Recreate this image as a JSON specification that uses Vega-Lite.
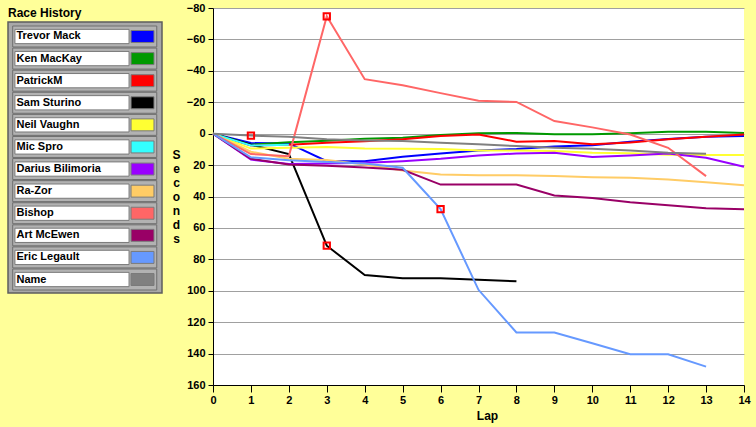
{
  "$schema": "https://vega.github.io/schema/vega-lite/v6.json",
  "background": "#FFFF99",
  "width": 531,
  "height": 377,
  "autosize": {"type": "none"},
  "padding": {"left": 213, "top": 8, "right": 12, "bottom": 42},
  "view": {"fill": "#FFFFFF", "stroke": null},
  "config": {"font": "Liberation Sans"},
  "title": {"text": "Race History", "anchor": "start", "frame": "group", "orient": "top", "dx": -205, "offset": -27, "baseline": "alphabetic", "fontSize": 12, "fontWeight": "bold", "font": "Liberation Sans", "color": "#000000"},
  "datasets": {
    "drivers": [
      {"driver": "Trevor Mack"}, {"driver": "Ken MacKay"}, {"driver": "PatrickM"}, {"driver": "Sam Sturino"},
      {"driver": "Neil Vaughn"}, {"driver": "Mic Spro"}, {"driver": "Darius Bilimoria"}, {"driver": "Ra-Zor"},
      {"driver": "Bishop"}, {"driver": "Art McEwen"}, {"driver": "Eric Legault"}, {"driver": "Name"}
    ],
    "panel": [{"part": "legend frame"}],
    "laps": [
      {"driver": "Trevor Mack", "lap": 0, "sec": 0}, {"driver": "Trevor Mack", "lap": 1, "sec": 6}, {"driver": "Trevor Mack", "lap": 2, "sec": 6.2}, {"driver": "Trevor Mack", "lap": 3, "sec": 17.5}, {"driver": "Trevor Mack", "lap": 4, "sec": 17.5}, {"driver": "Trevor Mack", "lap": 5, "sec": 14.7}, {"driver": "Trevor Mack", "lap": 6, "sec": 12.6}, {"driver": "Trevor Mack", "lap": 7, "sec": 10.7}, {"driver": "Trevor Mack", "lap": 8, "sec": 9.7}, {"driver": "Trevor Mack", "lap": 9, "sec": 8.1}, {"driver": "Trevor Mack", "lap": 10, "sec": 7.3}, {"driver": "Trevor Mack", "lap": 11, "sec": 5.1}, {"driver": "Trevor Mack", "lap": 12, "sec": 3.4}, {"driver": "Trevor Mack", "lap": 13, "sec": 1.9}, {"driver": "Trevor Mack", "lap": 14, "sec": 1.5},
      {"driver": "Ken MacKay", "lap": 0, "sec": 0}, {"driver": "Ken MacKay", "lap": 1, "sec": 7}, {"driver": "Ken MacKay", "lap": 2, "sec": 5.4}, {"driver": "Ken MacKay", "lap": 3, "sec": 4.5}, {"driver": "Ken MacKay", "lap": 4, "sec": 3.2}, {"driver": "Ken MacKay", "lap": 5, "sec": 2.6}, {"driver": "Ken MacKay", "lap": 6, "sec": 0.8}, {"driver": "Ken MacKay", "lap": 7, "sec": -0.3}, {"driver": "Ken MacKay", "lap": 8, "sec": -0.4}, {"driver": "Ken MacKay", "lap": 9, "sec": 0.3}, {"driver": "Ken MacKay", "lap": 10, "sec": 0.3}, {"driver": "Ken MacKay", "lap": 11, "sec": -0.2}, {"driver": "Ken MacKay", "lap": 12, "sec": -1.2}, {"driver": "Ken MacKay", "lap": 13, "sec": -1.2}, {"driver": "Ken MacKay", "lap": 14, "sec": -0.5},
      {"driver": "PatrickM", "lap": 0, "sec": 0}, {"driver": "PatrickM", "lap": 1, "sec": 7.5}, {"driver": "PatrickM", "lap": 2, "sec": 7}, {"driver": "PatrickM", "lap": 3, "sec": 5.8}, {"driver": "PatrickM", "lap": 4, "sec": 4.9}, {"driver": "PatrickM", "lap": 5, "sec": 3.6}, {"driver": "PatrickM", "lap": 6, "sec": 1.5}, {"driver": "PatrickM", "lap": 7, "sec": 0.5}, {"driver": "PatrickM", "lap": 8, "sec": 5.1}, {"driver": "PatrickM", "lap": 9, "sec": 4.7}, {"driver": "PatrickM", "lap": 10, "sec": 6.8}, {"driver": "PatrickM", "lap": 11, "sec": 5.7}, {"driver": "PatrickM", "lap": 12, "sec": 3.6}, {"driver": "PatrickM", "lap": 13, "sec": 2}, {"driver": "PatrickM", "lap": 14, "sec": 0.5},
      {"driver": "Sam Sturino", "lap": 0, "sec": 0}, {"driver": "Sam Sturino", "lap": 1, "sec": 7}, {"driver": "Sam Sturino", "lap": 2, "sec": 13}, {"driver": "Sam Sturino", "lap": 3, "sec": 71.3, "pit": true}, {"driver": "Sam Sturino", "lap": 4, "sec": 90}, {"driver": "Sam Sturino", "lap": 5, "sec": 92}, {"driver": "Sam Sturino", "lap": 6, "sec": 92}, {"driver": "Sam Sturino", "lap": 7, "sec": 93}, {"driver": "Sam Sturino", "lap": 8, "sec": 94},
      {"driver": "Neil Vaughn", "lap": 0, "sec": 0}, {"driver": "Neil Vaughn", "lap": 1, "sec": 9.5}, {"driver": "Neil Vaughn", "lap": 2, "sec": 9}, {"driver": "Neil Vaughn", "lap": 3, "sec": 8.5}, {"driver": "Neil Vaughn", "lap": 4, "sec": 9.5}, {"driver": "Neil Vaughn", "lap": 5, "sec": 9.6}, {"driver": "Neil Vaughn", "lap": 6, "sec": 9.8}, {"driver": "Neil Vaughn", "lap": 7, "sec": 10.7}, {"driver": "Neil Vaughn", "lap": 8, "sec": 10.7}, {"driver": "Neil Vaughn", "lap": 9, "sec": 11}, {"driver": "Neil Vaughn", "lap": 10, "sec": 12.1}, {"driver": "Neil Vaughn", "lap": 11, "sec": 12.4}, {"driver": "Neil Vaughn", "lap": 12, "sec": 13.4}, {"driver": "Neil Vaughn", "lap": 13, "sec": 13.6}, {"driver": "Neil Vaughn", "lap": 14, "sec": 13.6},
      {"driver": "Mic Spro", "lap": 0, "sec": 0}, {"driver": "Mic Spro", "lap": 1, "sec": 7.5}, {"driver": "Mic Spro", "lap": 2, "sec": 7},
      {"driver": "Darius Bilimoria", "lap": 0, "sec": 0}, {"driver": "Darius Bilimoria", "lap": 1, "sec": 16.5}, {"driver": "Darius Bilimoria", "lap": 2, "sec": 19.3}, {"driver": "Darius Bilimoria", "lap": 3, "sec": 19}, {"driver": "Darius Bilimoria", "lap": 4, "sec": 18.5}, {"driver": "Darius Bilimoria", "lap": 5, "sec": 17.5}, {"driver": "Darius Bilimoria", "lap": 6, "sec": 16}, {"driver": "Darius Bilimoria", "lap": 7, "sec": 13.9}, {"driver": "Darius Bilimoria", "lap": 8, "sec": 12.6}, {"driver": "Darius Bilimoria", "lap": 9, "sec": 12.1}, {"driver": "Darius Bilimoria", "lap": 10, "sec": 14.9}, {"driver": "Darius Bilimoria", "lap": 11, "sec": 13.9}, {"driver": "Darius Bilimoria", "lap": 12, "sec": 12.6}, {"driver": "Darius Bilimoria", "lap": 13, "sec": 15.3}, {"driver": "Darius Bilimoria", "lap": 14, "sec": 21},
      {"driver": "Ra-Zor", "lap": 0, "sec": 0}, {"driver": "Ra-Zor", "lap": 1, "sec": 11.5}, {"driver": "Ra-Zor", "lap": 2, "sec": 16}, {"driver": "Ra-Zor", "lap": 3, "sec": 16.8}, {"driver": "Ra-Zor", "lap": 4, "sec": 19.6}, {"driver": "Ra-Zor", "lap": 5, "sec": 23.4}, {"driver": "Ra-Zor", "lap": 6, "sec": 26}, {"driver": "Ra-Zor", "lap": 7, "sec": 26.4}, {"driver": "Ra-Zor", "lap": 8, "sec": 26.4}, {"driver": "Ra-Zor", "lap": 9, "sec": 27}, {"driver": "Ra-Zor", "lap": 10, "sec": 27.7}, {"driver": "Ra-Zor", "lap": 11, "sec": 28.1}, {"driver": "Ra-Zor", "lap": 12, "sec": 29.2}, {"driver": "Ra-Zor", "lap": 13, "sec": 30.9}, {"driver": "Ra-Zor", "lap": 14, "sec": 32.8},
      {"driver": "Bishop", "lap": 0, "sec": 0}, {"driver": "Bishop", "lap": 1, "sec": 13}, {"driver": "Bishop", "lap": 2, "sec": 14.3}, {"driver": "Bishop", "lap": 3, "sec": -74.7, "pit": true}, {"driver": "Bishop", "lap": 4, "sec": -34.7}, {"driver": "Bishop", "lap": 5, "sec": -30.8}, {"driver": "Bishop", "lap": 6, "sec": -25.8}, {"driver": "Bishop", "lap": 7, "sec": -21}, {"driver": "Bishop", "lap": 8, "sec": -20.2}, {"driver": "Bishop", "lap": 9, "sec": -8}, {"driver": "Bishop", "lap": 10, "sec": -4}, {"driver": "Bishop", "lap": 11, "sec": 0.5}, {"driver": "Bishop", "lap": 12, "sec": 9}, {"driver": "Bishop", "lap": 13, "sec": 27},
      {"driver": "Art McEwen", "lap": 0, "sec": 0}, {"driver": "Art McEwen", "lap": 1, "sec": 16}, {"driver": "Art McEwen", "lap": 2, "sec": 19.6}, {"driver": "Art McEwen", "lap": 3, "sec": 20.5}, {"driver": "Art McEwen", "lap": 4, "sec": 21.5}, {"driver": "Art McEwen", "lap": 5, "sec": 23}, {"driver": "Art McEwen", "lap": 6, "sec": 32.4}, {"driver": "Art McEwen", "lap": 7, "sec": 32.4}, {"driver": "Art McEwen", "lap": 8, "sec": 32.4}, {"driver": "Art McEwen", "lap": 9, "sec": 39.4}, {"driver": "Art McEwen", "lap": 10, "sec": 40.9}, {"driver": "Art McEwen", "lap": 11, "sec": 43.6}, {"driver": "Art McEwen", "lap": 12, "sec": 45.5}, {"driver": "Art McEwen", "lap": 13, "sec": 47.5}, {"driver": "Art McEwen", "lap": 14, "sec": 48.1},
      {"driver": "Eric Legault", "lap": 0, "sec": 0}, {"driver": "Eric Legault", "lap": 1, "sec": 15}, {"driver": "Eric Legault", "lap": 2, "sec": 17}, {"driver": "Eric Legault", "lap": 3, "sec": 18.1}, {"driver": "Eric Legault", "lap": 4, "sec": 19}, {"driver": "Eric Legault", "lap": 5, "sec": 21.7}, {"driver": "Eric Legault", "lap": 6, "sec": 48, "pit": true}, {"driver": "Eric Legault", "lap": 7, "sec": 99.4}, {"driver": "Eric Legault", "lap": 8, "sec": 126.6}, {"driver": "Eric Legault", "lap": 9, "sec": 126.6}, {"driver": "Eric Legault", "lap": 10, "sec": 133.4}, {"driver": "Eric Legault", "lap": 11, "sec": 140.4}, {"driver": "Eric Legault", "lap": 12, "sec": 140.4}, {"driver": "Eric Legault", "lap": 13, "sec": 148.3},
      {"driver": "Name", "lap": 0, "sec": 0}, {"driver": "Name", "lap": 1, "sec": 1.2, "pit": true}, {"driver": "Name", "lap": 2, "sec": 1.9}, {"driver": "Name", "lap": 3, "sec": 3.6}, {"driver": "Name", "lap": 4, "sec": 4.3}, {"driver": "Name", "lap": 5, "sec": 4.7}, {"driver": "Name", "lap": 6, "sec": 5.8}, {"driver": "Name", "lap": 7, "sec": 6.8}, {"driver": "Name", "lap": 8, "sec": 7.9}, {"driver": "Name", "lap": 9, "sec": 9}, {"driver": "Name", "lap": 10, "sec": 9.6}, {"driver": "Name", "lap": 11, "sec": 10.7}, {"driver": "Name", "lap": 12, "sec": 12.1}, {"driver": "Name", "lap": 13, "sec": 12.8}
    ]
  },
  "layer": [
    {
      "data": {"name": "laps"},
      "encoding": {
        "x": {"field": "lap", "type": "quantitative",
          "scale": {"domain": [0, 14], "nice": false, "zero": false},
          "axis": {"values": [0,1,2,3,4,5,6,7,8,9,10,11,12,13,14], "grid": false, "domainColor": "#000000", "tickColor": "#000000", "tickSize": 7,
                   "labelFont": "Liberation Sans", "labelFontWeight": "bold", "labelFontSize": 11, "labelColor": "#000000", "labelPadding": 2, "labelFlush": false, "labelOverlap": false,
                   "title": "Lap", "titleFont": "Liberation Sans", "titleFontSize": 12, "titleFontWeight": "bold", "titleColor": "#000000", "titleX": 274, "titleY": 25, "titleBaseline": "top", "titleAlign": "center"}},
        "y": {"field": "sec", "type": "quantitative",
          "scale": {"domain": [-80, 160], "reverse": true, "nice": false, "zero": false},
          "axis": {"values": [-80,-60,-40,-20,0,20,40,60,80,100,120,140,160], "grid": true, "gridColor": "#A0A0A0", "gridWidth": 1, "gridOpacity": 1,
                   "domainColor": "#000000", "tickColor": "#000000", "tickSize": 5,
                   "labelFont": "Liberation Sans", "labelFontWeight": "bold", "labelFontSize": 11, "labelColor": "#000000", "labelPadding": 3, "labelFlush": false, "labelOverlap": false,
                   "title": ["S", "e", "c", "o", "n", "d", "s"], "titleFont": "Liberation Sans", "titleFontSize": 12, "titleFontWeight": "bold", "titleColor": "#000000",
                   "titleAngle": 0, "titleAlign": "center", "titleBaseline": "top", "titleLineHeight": 14, "titleX": -37, "titleY": 141}}
      },
      "layer": [
        {
          "mark": {"type": "line", "strokeWidth": 2},
          "encoding": {
            "color": {"field": "driver", "type": "nominal", "legend": null,
              "scale": {"domain": ["Trevor Mack", "Ken MacKay", "PatrickM", "Sam Sturino", "Neil Vaughn", "Mic Spro", "Darius Bilimoria", "Ra-Zor", "Bishop", "Art McEwen", "Eric Legault", "Name"],
                        "range": ["#0000FF", "#009900", "#FF0000", "#000000", "#FFFF33", "#33FFFF", "#9900FF", "#FFCC66", "#FF6666", "#990066", "#6699FF", "#808080"]}}
          }
        },
        {
          "transform": [{"filter": "datum.pit === true"}],
          "mark": {"type": "point", "shape": "square", "filled": false, "color": "#FF0000", "strokeWidth": 2, "size": 40, "opacity": 1}
        }
      ]
    },
    {
      "data": {"name": "panel"},
      "mark": {"type": "rect", "fill": "#A8A8A8", "stroke": "#5E5E5E", "strokeWidth": 1.5},
      "encoding": {
        "x": {"datum": 0, "type": "quantitative", "scale": {"domain": [0, 1], "range": [-205, -51], "nice": false, "zero": false}, "axis": null},
        "x2": {"datum": 1},
        "y": {"datum": 0, "type": "quantitative", "scale": {"domain": [0, 1], "range": [14, 285], "nice": false, "zero": false}, "axis": null},
        "y2": {"datum": 1}
      }
    },
    {
      "data": {"name": "drivers"},
      "encoding": {
        "y": {"field": "driver", "type": "nominal", "sort": null, "axis": null, "scale": {"range": [18, 282], "paddingInner": 0.05, "paddingOuter": 0}}
      },
      "layer": [
        {
          "mark": {"type": "bar", "fill": "#B2B2B2", "stroke": "#6E6E6E", "strokeWidth": 1},
          "encoding": {
            "x": {"datum": 3.05, "type": "quantitative", "scale": {"domain": [0, 100], "range": [-205, -51], "nice": false, "zero": false}, "axis": null},
            "x2": {"datum": 96.6}
          }
        },
        {
          "mark": {"type": "bar", "fill": "#FFFFFF", "stroke": "#7A7A7A", "strokeWidth": 1, "height": {"band": 0.68}},
          "encoding": {"x": {"datum": 4.5, "type": "quantitative"}, "x2": {"datum": 78.6}}
        },
        {
          "mark": {"type": "bar", "stroke": "#7A7A7A", "strokeWidth": 1, "height": {"band": 0.57}, "opacity": 1},
          "encoding": {
            "x": {"datum": 79.9, "type": "quantitative"},
            "x2": {"datum": 94.8},
            "color": {"field": "driver", "type": "nominal", "legend": null,
              "scale": {"domain": ["Trevor Mack", "Ken MacKay", "PatrickM", "Sam Sturino", "Neil Vaughn", "Mic Spro", "Darius Bilimoria", "Ra-Zor", "Bishop", "Art McEwen", "Eric Legault", "Name"],
                        "range": ["#0000FF", "#009900", "#FF0000", "#000000", "#FFFF33", "#33FFFF", "#9900FF", "#FFCC66", "#FF6666", "#990066", "#6699FF", "#808080"]}}
          }
        },
        {
          "mark": {"type": "text", "align": "left", "baseline": "middle", "fontWeight": "bold", "fontSize": 11, "font": "Liberation Sans", "color": "#000000"},
          "encoding": {"x": {"datum": 5.5, "type": "quantitative"}, "text": {"field": "driver"}}
        }
      ]
    }
  ],
  "resolve": {"scale": {"x": "independent", "y": "independent", "color": "shared"}, "axis": {"x": "independent", "y": "independent"}}
}
